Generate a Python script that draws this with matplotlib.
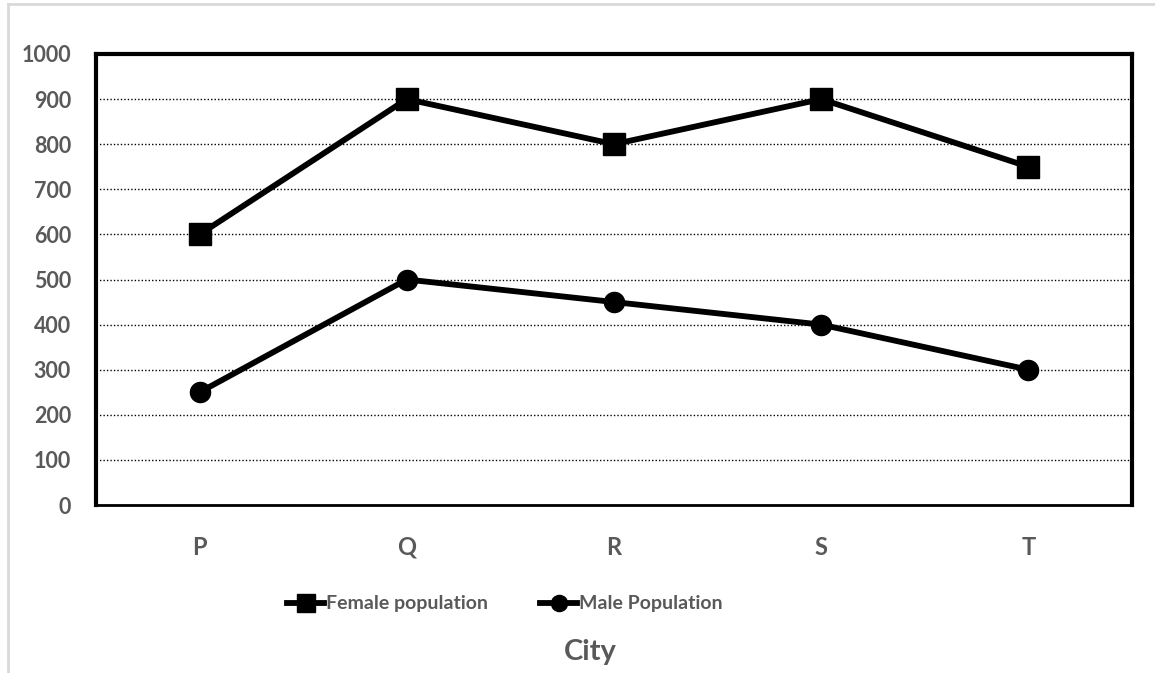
import matplotlib
matplotlib.use("Agg")
import matplotlib.pyplot as plt
from matplotlib.lines import Line2D

cities = ["P", "Q", "R", "S", "T"]
female = [600, 900, 800, 900, 750]
male = [250, 500, 450, 400, 300]
yticks = [0, 100, 200, 300, 400, 500, 600, 700, 800, 900, 1000]

W, H = 1155, 673
fig = plt.figure(figsize=(W / 100, H / 100), dpi=100)
fig.patch.set_facecolor("white")

# outer light-grey frame (top and left)
fig.add_artist(Line2D([8 / W, 1], [1 - 4 / H, 1 - 4 / H], color="#d9d9d9", lw=2))
fig.add_artist(Line2D([8 / W, 8 / W], [0, 1 - 4 / H], color="#d9d9d9", lw=2))

left, right, top, bottom = 96, 1132, 54, 505
ax = fig.add_axes([left / W, 1 - bottom / H, (right - left) / W, (bottom - top) / H])

x = list(range(len(cities)))
ax.plot(x, female, color="black", lw=4.2, marker="s", markersize=15.5, label="Female population", zorder=3)
ax.plot(x, male, color="black", lw=4.2, marker="o", markersize=14.5, label="Male Population", zorder=3)

ax.set_xlim(-0.5, len(cities) - 0.5)
ax.set_ylim(0, 1000)
ax.set_yticks(yticks)
ax.set_xticks(x)
ax.set_xticklabels(cities)

font = "Lato"
gray = "#595959"
for lab in ax.get_yticklabels():
    lab.set_fontfamily(font); lab.set_fontweight("bold"); lab.set_color(gray); lab.set_fontsize(15.5)
for lab in ax.get_xticklabels():
    lab.set_fontfamily(font); lab.set_fontweight("bold"); lab.set_color(gray); lab.set_fontsize(17)

ax.tick_params(axis="both", length=0)
ax.tick_params(axis="y", pad=18)
ax.tick_params(axis="x", pad=22)

ax.yaxis.grid(True, color="black", linestyle=(0, (1, 1.5)), lw=1)
ax.set_axisbelow(True)
for name, s in ax.spines.items():
    s.set_color("black")
    s.set_linewidth(3 if name != "bottom" else 2)

handles, labels = ax.get_legend_handles_labels()
leg = fig.legend(handles, labels, loc="center", bbox_to_anchor=(505 / W, 1 - 604 / H), ncol=2, frameon=False,
                 handlelength=1.9, handletextpad=0.1, columnspacing=2.7, markerscale=0.8,
                 prop={"family": font, "weight": "bold", "size": 14})
for t in leg.get_texts():
    t.set_color(gray)

fig.text(590 / W, 1 - 652 / H, "City", ha="center", va="center",
         fontfamily=font, fontweight="bold", fontsize=21, color=gray)

fig.savefig("out.png", dpi=100, facecolor="white")
